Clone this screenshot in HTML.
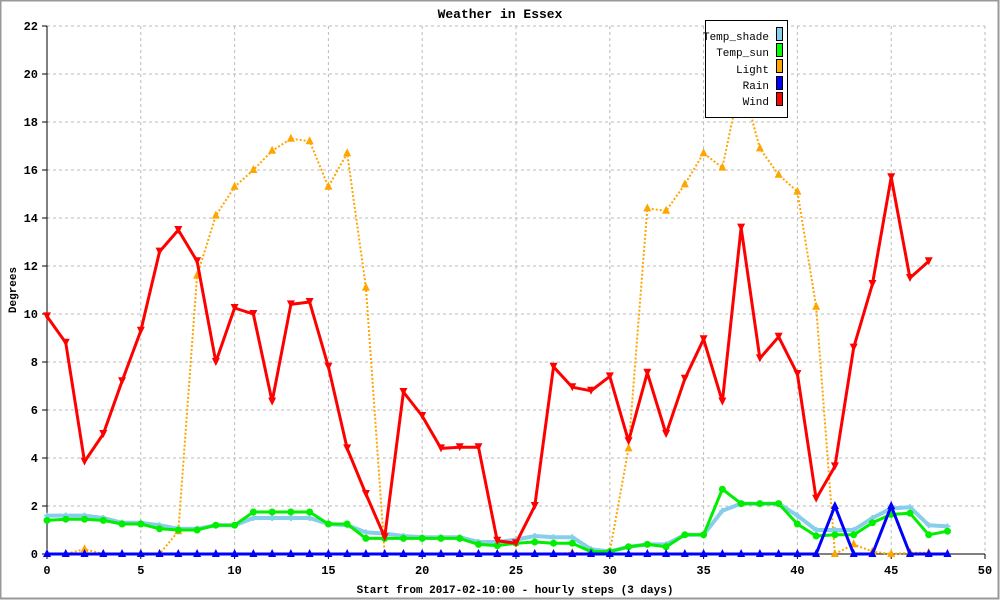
<!DOCTYPE html>
<html><head><meta charset="utf-8"><style>
body{margin:0;background:#fff}
svg{display:block;font-family:"Liberation Mono","DejaVu Sans Mono",monospace}
</style></head><body>
<svg id="c" width="1000" height="600" viewBox="0 0 1000 600">
<rect x="0.5" y="0.5" width="998" height="598" fill="#fff" stroke="#999" stroke-width="2"/>
<text x="500" y="18" text-anchor="middle" font-size="13" font-weight="bold">Weather in Essex</text>
<text x="515" y="593" text-anchor="middle" font-size="11" font-weight="bold">Start from 2017-02-10:00 - hourly steps (3 days)</text>
<text transform="translate(16,290) rotate(-90)" text-anchor="middle" font-size="11" font-weight="bold">Degrees</text>
<g id="grid"></g>
<g id="axes"></g>
<g id="series"></g>
<g>
<rect x="705.5" y="20.5" width="82" height="97" fill="#fff" stroke="#000"/>
<g font-size="11" text-anchor="end">
<text x="769" y="40">Temp_shade</text>
<text x="769" y="56">Temp_sun</text>
<text x="769" y="73">Light</text>
<text x="769" y="89">Rain</text>
<text x="769" y="105">Wind</text>
</g>
<rect x="776.5" y="27.5" width="6" height="13" fill="#87ceeb" stroke="#000"/>
<rect x="776.5" y="43.5" width="6" height="13" fill="#00ff00" stroke="#000"/>
<rect x="776.5" y="59.5" width="6" height="13" fill="#ffa500" stroke="#000"/>
<rect x="776.5" y="76.5" width="6" height="13" fill="#0000ff" stroke="#000"/>
<rect x="776.5" y="92.5" width="6" height="13" fill="#ff0000" stroke="#000"/>
</g>
</svg>
<script>
const xTicks=[0,5,10,15,20,25,30,35,40,45,50];
const yTicks=[0,2,4,6,8,10,12,14,16,18,20,22];
const tempShade=[1.6,1.6,1.6,1.5,1.3,1.3,1.2,1.05,1.05,1.2,1.2,1.5,1.5,1.5,1.5,1.25,1.2,0.9,0.85,0.75,0.7,0.7,0.7,0.5,0.5,0.6,0.75,0.7,0.7,0.2,0.1,0.3,0.4,0.4,0.8,0.8,1.8,2.1,2.1,2.1,1.6,1.0,1.0,1.0,1.5,1.9,1.95,1.2,1.15];
const tempSun=[1.4,1.45,1.45,1.4,1.25,1.25,1.05,1.0,1.0,1.2,1.2,1.75,1.75,1.75,1.75,1.25,1.25,0.65,0.65,0.65,0.65,0.65,0.65,0.4,0.35,0.45,0.5,0.45,0.45,0.1,0.1,0.3,0.4,0.3,0.8,0.8,2.7,2.1,2.1,2.1,1.25,0.75,0.8,0.8,1.3,1.65,1.7,0.8,0.95];
const light=[0,0,0.2,0,0,0,0,0.95,11.6,14.1,15.3,16.0,16.8,17.3,17.2,15.3,16.7,11.1,0,0,0,0,0,0,0,0,0,0,0.05,0,0.1,4.4,14.4,14.3,15.4,16.7,16.1,19.8,16.9,15.8,15.1,10.3,0,0.4,0.1,0,0.05,0.05];
const rain=[0,0,0,0,0,0,0,0,0,0,0,0,0,0,0,0,0,0,0,0,0,0,0,0,0,0,0,0,0,0,0,0,0,0,0,0,0,0,0,0,0,0,2.0,0,0,2.0,0,0,0];
const wind=[9.9,8.8,3.85,5.0,7.2,9.3,12.6,13.5,12.2,8.0,10.25,10.0,6.35,10.4,10.5,7.8,4.4,2.5,0.7,6.75,5.75,4.4,4.45,4.45,0.55,0.45,2.0,7.8,6.95,6.8,7.4,4.7,7.55,5.0,7.3,8.95,6.35,13.6,8.15,9.05,7.5,2.3,3.65,8.6,11.25,15.7,11.5,12.2];
const NS='http://www.w3.org/2000/svg';
const X0=47,X1=985,Y0=554,Y1=26;
function xs(v){return X0+(X1-X0)*v/50;}
function ys(v){return Y0-(Y0-Y1)*v/22;}
function mk(tag,attrs,parent){const e=document.createElementNS(NS,tag);for(const k in attrs)e.setAttribute(k,attrs[k]);parent.appendChild(e);return e;}
const grid=document.getElementById('grid'),axes=document.getElementById('axes'),ser=document.getElementById('series');
xTicks.forEach(t=>{
  if(t>0){const l=mk('line',{x1:xs(t),x2:xs(t),y1:Y1,y2:Y0,stroke:'#bbb','stroke-dasharray':'3,3'},grid);
  
  }
  const tk=mk('line',{x1:xs(t),x2:xs(t),y1:Y0,y2:Y0+5,stroke:'#000'},axes);
  
  
  const tx=mk('text',{x:xs(t),y:574,'text-anchor':'middle','font-size':'12','font-weight':'bold'},axes);tx.textContent=t;
  
  
});
yTicks.forEach(t=>{
  if(t>0){const l=mk('line',{x1:X0,x2:X1,y1:ys(t),y2:ys(t),stroke:'#bbb','stroke-dasharray':'3,3'},grid);
  
  }
  const tk=mk('line',{x1:X0-5,x2:X0,y1:ys(t),y2:ys(t),stroke:'#000'},axes);
  
  
  const tx=mk('text',{x:38,y:ys(t)+4,'text-anchor':'end','font-size':'12','font-weight':'bold'},axes);tx.textContent=t;
  
  
});
const ya=mk('line',{x1:X0,x2:X0,y1:Y1,y2:Y0,stroke:'#000'},axes);


const xa=mk('line',{x1:X0,x2:X1,y1:Y0,y2:Y0,stroke:'#000'},axes);


function pts(a){return a.map((v,i)=>xs(i)+','+ys(v)).join(' ');}
function marker(type,x,y,col,g){
  let e;
  if(type==='circle')e=mk('circle',{cx:x,cy:y,r:3.5,fill:col},g);
  else if(type==='up')e=mk('polygon',{points:`${x},${y-5} ${x-4},${y+3} ${x+4},${y+3}`,fill:col},g);
  else if(type==='down')e=mk('polygon',{points:`${x-4},${y-4} ${x+4},${y-4} ${x},${y+4}`,fill:col},g);
  else e=mk('path',{d:`M${x-3},${y}H${x+3}M${x},${y-3}V${y+3}`,stroke:col,'stroke-width':2},g);
  
  
}
function series(name,a,col,w,dash,mtype){
  const g=mk('g',{},ser);
  
  
  const attrs={points:pts(a),fill:'none',stroke:col,'stroke-width':w,'stroke-linejoin':'round'};
  if(dash)attrs['stroke-dasharray']=dash;
  const l=mk('polyline',attrs,g);
  
  
  a.forEach((v,i)=>marker(mtype,xs(i),ys(v),col,g));
}
series('light-series',light,'#ffa500',2,'2,2','up');
series('temp-shade-series',tempShade,'#87ceeb',4,null,'cross');
series('temp-sun-series',tempSun,'#00ee00',3,null,'circle');
series('rain-series',rain,'#0000ff',3,null,'up');
series('wind-series',wind,'#ff0000',3,null,'down');
</script>
</body></html>
